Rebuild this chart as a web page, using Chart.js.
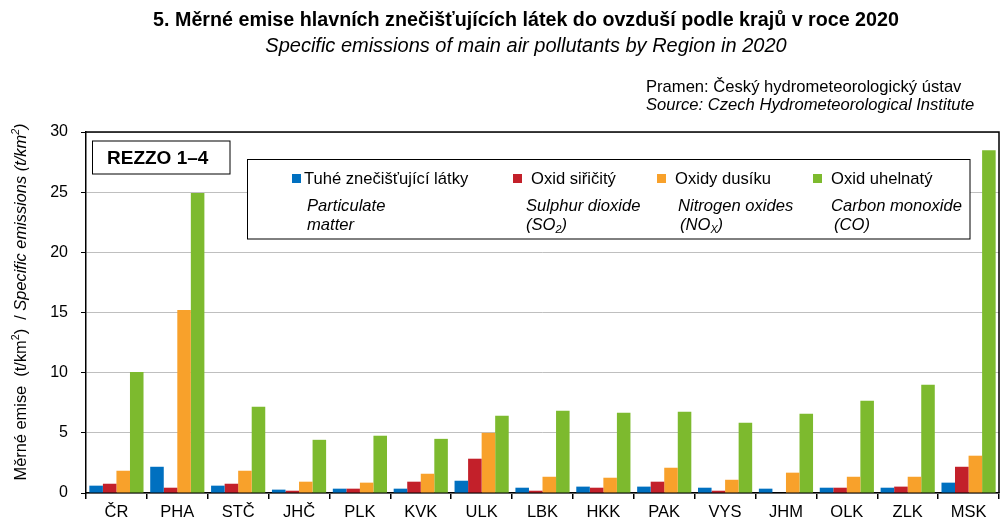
<!DOCTYPE html>
<html>
<head>
<meta charset="utf-8">
<script src="https://cdn.jsdelivr.net/npm/chart.js@4.4.0/dist/chart.umd.min.js"></script>
<style>
  html, body { margin: 0; padding: 0; background: #fff; }
</style>
</head>
<body>
<canvas id="myChart" width="1004" height="527"></canvas>
<script>
const regions = ['ČR', 'PHA', 'STČ', 'JHČ', 'PLK', 'KVK', 'ULK', 'LBK', 'HKK', 'PAK', 'VYS', 'JHM', 'OLK', 'ZLK', 'MSK'];

// t/km2
const particulate = [0.61, 2.18, 0.61, 0.28, 0.36, 0.36, 1.02, 0.44, 0.53, 0.53, 0.44, 0.36, 0.44, 0.44, 0.86];
const sulphur     = [0.77, 0.44, 0.77, 0.19, 0.36, 0.94, 2.85, 0.19, 0.44, 0.94, 0.19, 0.00, 0.44, 0.53, 2.18];
const nitrogen    = [1.85, 15.2, 1.85, 0.94, 0.86, 1.60, 5.00, 1.35, 1.27, 2.10, 1.10, 1.69, 1.35, 1.35, 3.10];
const carbon      = [10.06, 24.94, 7.16, 4.42, 4.76, 4.50, 6.41, 6.83, 6.66, 6.75, 5.83, 6.58, 7.66, 8.99, 28.48];

const yTicks = [0, 5, 10, 15, 20, 25, 30];

const seriesCz = ['Tuhé znečišťující látky', 'Oxid siřičitý', 'Oxidy dusíku', 'Oxid uhelnatý'];
const colors = ['#0070C0', '#C3202A', '#F8A12B', '#7DBA2E'];

const FONT = '"Liberation Sans", Arial, sans-serif';

// draw text made of pieces (normal / sub / sup); returns width
function rich(ctx, x, y, parts, size, opts = {}) {
  let cx = x;
  for (const p of parts) {
    const o = typeof p === 'string' ? { t: p } : p;
    const small = o.sub || o.sup;
    const fs = small ? size * 0.65 : size;
    const it = o.italic !== undefined ? o.italic : opts.italic;
    ctx.font = (it ? 'italic ' : '') + (opts.bold ? 'bold ' : '') + fs + 'px ' + FONT;
    const dy = o.sub ? size * 0.28 : o.sup ? -size * 0.32 : 0;
    if (opts.draw !== false) ctx.fillText(o.t, cx, y + dy);
    cx += ctx.measureText(o.t).width;
  }
  return cx - x;
}

const decor = {
  id: 'decor',
  afterDraw(chart) {
    const ctx = chart.ctx;
    const a = chart.chartArea;
    ctx.save();
    ctx.fillStyle = '#000';
    ctx.textBaseline = 'middle';

    // titles
    ctx.textAlign = 'center';
    ctx.font = 'bold 19.7px ' + FONT;
    ctx.fillText('5. Měrné emise hlavních znečišťujících látek do ovzduší podle krajů v roce 2020', 526, 21);
    ctx.font = 'italic 20px ' + FONT;
    ctx.fillText('Specific emissions of main air pollutants by Region in 2020', 526, 46);

    ctx.textAlign = 'left';
    ctx.font = '16.6px ' + FONT;
    ctx.fillText('Pramen: Český hydrometeorologický ústav', 646, 87);
    ctx.font = 'italic 16.6px ' + FONT;
    ctx.fillText('Source: Czech Hydrometeorological Institute', 646, 105);

    // frame top + right
    ctx.strokeStyle = '#000';
    ctx.lineWidth = 1.5;
    ctx.beginPath();
    ctx.moveTo(a.left, a.top);
    ctx.lineTo(a.right, a.top);
    ctx.lineTo(a.right, a.bottom);
    ctx.stroke();

    // REZZO box
    ctx.lineWidth = 1;
    ctx.fillStyle = '#fff';
    ctx.fillRect(92.5, 141, 137.5, 33);
    ctx.strokeRect(92.5, 141, 137.5, 33);
    ctx.fillStyle = '#000';
    ctx.font = 'bold 19px ' + FONT;
    ctx.fillText('REZZO 1–4', 107, 158.5);

    // legend box
    ctx.fillStyle = '#fff';
    ctx.fillRect(247.5, 159.5, 722.5, 79.5);
    ctx.strokeRect(247.5, 159.5, 722.5, 79.5);

    const sq = [292, 513, 657, 813];
    const tx = [304, 531, 675, 831];
    for (let i = 0; i < 4; i++) {
      ctx.fillStyle = colors[i];
      ctx.fillRect(sq[i], 174, 9, 9);
      ctx.fillStyle = '#000';
      ctx.font = '16.6px ' + FONT;
      ctx.fillText(seriesCz[i], tx[i], 179);
    }
    const it = { italic: true };
    const fs = 16.6;
    rich(ctx, 307, 206, ['Particulate'], fs, it);
    rich(ctx, 307, 225, ['matter'], fs, it);
    rich(ctx, 526, 206, ['Sulphur dioxide'], fs, it);
    rich(ctx, 526, 225, ['(SO', { t: '2', sub: true }, ')'], fs, it);
    rich(ctx, 678, 206, ['Nitrogen oxides'], fs, it);
    rich(ctx, 680, 225, ['(NO', { t: 'X', sub: true }, ')'], fs, it);
    rich(ctx, 831, 206, ['Carbon monoxide'], fs, it);
    rich(ctx, 834, 225, ['(CO)'], fs, it);

    // y axis title
    const parts = ['Měrné emise  (t/km', { t: '2', sup: true }, ')  / ',
      { t: 'Specific emissions (t/km', italic: true }, { t: '2', sup: true, italic: true }, { t: ')', italic: true }];
    ctx.translate(21, 302);
    ctx.rotate(-Math.PI / 2);
    const w = rich(ctx, 0, 0, parts, 16.4, { draw: false });
    rich(ctx, -w / 2, 0, parts, 16.4);
    ctx.restore();
  }
};

new Chart(document.getElementById('myChart'), {
  type: 'bar',
  data: {
    labels: regions,
    datasets: [particulate, sulphur, nitrogen, carbon].map((d, i) => ({
      label: seriesCz[i],
      data: d,
      backgroundColor: colors[i],
      borderWidth: 0,
      barPercentage: 1.0,
      categoryPercentage: 0.89
    }))
  },
  options: {
    responsive: false,
    animation: false,
    devicePixelRatio: 1,
    layout: { padding: { top: 132, right: 5, bottom: 0, left: 0 } },
    plugins: { legend: { display: false }, title: { display: false }, tooltip: { enabled: false } },
    scales: {
      x: {
        grid: { offset: true, drawOnChartArea: false, color: '#000', tickLength: 6, lineWidth: 1.5 },
        border: { color: '#000', width: 1.5 },
        ticks: { color: '#000', font: { family: FONT, size: 16.5 }, padding: 4 },
        afterFit(s) { s.height = 34; }
      },
      y: {
        min: 0,
        max: 30,
        afterBuildTicks(s) { s.ticks = yTicks.map(v => ({ value: v })); },
        grid: { color: '#BFBFBF', lineWidth: 1, tickLength: 5, tickColor: '#000' },
        border: { color: '#000', width: 1.5 },
        ticks: { color: '#000', font: { family: FONT, size: 16 }, padding: 13 },
        afterFit(s) { s.width = 86; }
      }
    }
  },
  plugins: [decor]
});
</script>
</body>
</html>
